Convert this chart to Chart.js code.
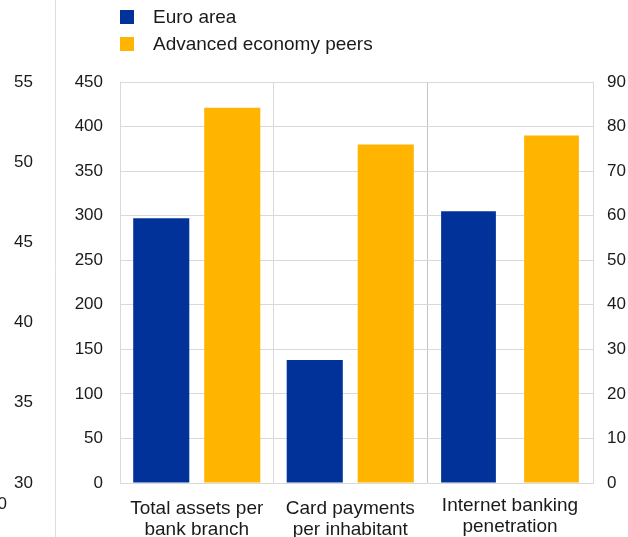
<!DOCTYPE html>
<html>
<head>
<meta charset="utf-8">
<script src="https://cdn.jsdelivr.net/npm/chart.js@4"></script>
<style>
  html, body { margin: 0; padding: 0; background: #ffffff; }
  #wrap { position: relative; width: 628px; height: 537px; overflow: hidden; background: #ffffff; }
  #wrap canvas { position: absolute; left: 0; top: 0; }
  #legend { position: absolute; left: 120px; top: 3px; font-family: "Liberation Sans", Arial, sans-serif; font-size: 19px; color: #1a1a1a; }
  #legend .item { display: flex; align-items: center; height: 27px; white-space: nowrap; }
  #legend .sw { width: 14px; height: 14px; margin-right: 19px; flex: none; }
</style>
</head>
<body>
<div id="wrap">
  <canvas id="leftPanel" width="628" height="537"></canvas>
  <canvas id="rightPanel" width="628" height="537"></canvas>
  <div id="legend"></div>
</div>
<script>
// Categories (two-line labels) and the two series
const categories = [
  ['Total assets per', 'bank branch'],
  ['Card payments', 'per inhabitant'],
  ['Internet banking', 'penetration']
];
const seriesNames = ['Euro area', 'Advanced economy peers'];
const seriesColors = ['#003299', '#FFB400'];
const euroArea = [297, 138, 61];
const advancedPeers = [421, 380, 78];

// Axis tick ranges
const leftAxisTicks = [0, 50, 100, 150, 200, 250, 300, 350, 400, 450];
const rightAxisTicks = [0, 10, 20, 30, 40, 50, 60, 70, 80, 90];
const neighbourAxisTicks = [30, 35, 40, 45, 50, 55];
const neighbourXLabel = '0';

const FONT = '"Liberation Sans", Arial, sans-serif';
const TEXT = '#1a1a1a';
const GRID = '#d9d9d9';
const DIVIDER = '#c4c4c4';

Chart.defaults.font.family = FONT;
Chart.defaults.color = TEXT;

const stepOf = t => t[1] - t[0];
const minOf = t => t[0];
const maxOf = t => t[t.length - 1];

// HTML legend built from the series names/colours
const legendEl = document.getElementById('legend');
seriesNames.forEach((name, i) => {
  const row = document.createElement('div');
  row.className = 'item';
  const sw = document.createElement('span');
  sw.className = 'sw';
  sw.style.background = seriesColors[i];
  const label = document.createElement('span');
  label.textContent = name;
  row.appendChild(sw);
  row.appendChild(label);
  legendEl.appendChild(row);
});

// Thin vertical rule beside the neighbouring scale, plus its cut-off x label
const neighbourEdge = {
  id: 'neighbourEdge',
  beforeDraw(chart) {
    const s = chart.scales.yNeighbour;
    const ctx = chart.ctx;
    ctx.save();
    ctx.strokeStyle = '#dedede';
    ctx.lineWidth = 1;
    const x = Math.round(s.right) + 0.5;
    ctx.beginPath();
    ctx.moveTo(x, 0);
    ctx.lineTo(x, chart.height);
    ctx.stroke();
    ctx.fillStyle = TEXT;
    ctx.font = '17px ' + FONT;
    ctx.textAlign = 'right';
    ctx.textBaseline = 'middle';
    ctx.fillText(neighbourXLabel, 7, chart.scales.x.top + 21);
    ctx.restore();
  }
};

const tickFont = { size: 17 };
const catFont = { size: 19, lineHeight: 1.1 };

// Left panel: first two categories on the 0-450 scale
new Chart(document.getElementById('leftPanel'), {
  type: 'bar',
  data: {
    labels: categories.slice(0, 2),
    datasets: [
      { label: seriesNames[0], data: euroArea.slice(0, 2), backgroundColor: seriesColors[0], yAxisID: 'y' },
      { label: seriesNames[1], data: advancedPeers.slice(0, 2), backgroundColor: seriesColors[1], yAxisID: 'y' }
    ]
  },
  options: {
    responsive: false,
    animation: false,
    devicePixelRatio: 1,
    categoryPercentage: 0.925,
    barPercentage: 0.79,
    layout: { padding: { left: 0, right: 201, top: 82, bottom: 0 } },
    plugins: { legend: { display: false }, tooltip: { enabled: false } },
    scales: {
      x: {
        grid: { color: GRID, drawTicks: false, offset: true },
        border: { display: true, color: GRID },
        ticks: { font: catFont, padding: 15, maxRotation: 0, color: TEXT },
        afterFit: s => { s.height = 54; }
      },
      y: {
        position: 'left',
        weight: 0,
        min: minOf(leftAxisTicks),
        max: maxOf(leftAxisTicks),
        grid: { color: GRID, drawTicks: false },
        border: { display: true, color: GRID },
        ticks: { stepSize: stepOf(leftAxisTicks), font: tickFont, padding: 17, color: TEXT },
        afterFit: s => { s.width = 65; }
      },
      yNeighbour: {
        position: 'left',
        weight: 1,
        min: minOf(neighbourAxisTicks),
        max: maxOf(neighbourAxisTicks),
        grid: { display: false, drawTicks: false },
        border: { display: false },
        ticks: { stepSize: stepOf(neighbourAxisTicks), font: tickFont, padding: 22, color: TEXT },
        afterFit: s => { s.width = 55; }
      }
    }
  },
  plugins: [neighbourEdge]
});

// Right panel: third category on the 0-90 scale
new Chart(document.getElementById('rightPanel'), {
  type: 'bar',
  data: {
    labels: categories.slice(2),
    datasets: [
      { label: seriesNames[0], data: euroArea.slice(2), backgroundColor: seriesColors[0], yAxisID: 'y2' },
      { label: seriesNames[1], data: advancedPeers.slice(2), backgroundColor: seriesColors[1], yAxisID: 'y2' }
    ]
  },
  options: {
    responsive: false,
    animation: false,
    devicePixelRatio: 1,
    categoryPercentage: 1.0,
    barPercentage: 0.66,
    layout: { padding: { left: 427, right: 0, top: 82, bottom: 0 } },
    plugins: { legend: { display: false }, tooltip: { enabled: false } },
    scales: {
      x: {
        grid: { color: c => (c.index === 0 ? DIVIDER : GRID), drawTicks: false, offset: true },
        border: { display: true, color: GRID },
        ticks: { font: catFont, padding: 12, maxRotation: 0, color: TEXT },
        afterFit: s => { s.height = 54; }
      },
      y2: {
        position: 'right',
        min: minOf(rightAxisTicks),
        max: maxOf(rightAxisTicks),
        grid: { color: GRID, drawTicks: false },
        border: { display: true, color: GRID },
        ticks: { stepSize: stepOf(rightAxisTicks), font: tickFont, padding: 14, color: TEXT },
        afterFit: s => { s.width = 35; }
      }
    }
  }
});
</script>
</body>
</html>
